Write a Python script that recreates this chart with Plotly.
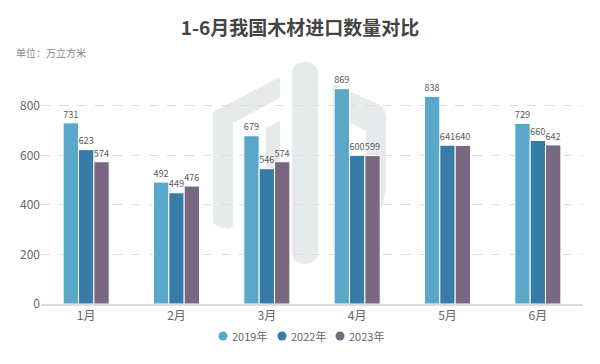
import plotly.graph_objects as go

months = ["1月", "2月", "3月", "4月", "5月", "6月"]
v2019 = [731, 492, 679, 869, 838, 729]
v2022 = [623, 449, 546, 600, 641, 660]
v2023 = [574, 476, 574, 599, 640, 642]
series_names = ["2019年", "2022年", "2023年"]
colors = ["#5aa8c9", "#377ca6", "#7a6883"]
yticks = [0, 200, 400, 600, 800]

FONT = "Noto Sans CJK SC"
W, H = 600, 364
L, R, T, B = 41, 17, 81, 60
PW, PH = W - L - R, H - T - B


def px(x, y):
    return ((x - L) / PW, (H - B - y) / PH)


def path(cmds):
    out = []
    for c in cmds:
        if isinstance(c, str):
            out.append(c)
        else:
            a, b = px(*c)
            out.append(f"{a:.4f},{b:.4f}")
    return " ".join(out)


fig = go.Figure()
for name, vals, c in zip(series_names, [v2019, v2022, v2023], colors):
    fig.add_trace(go.Bar(
        x=months, y=vals, name=name, marker=dict(color=c, line=dict(color="white", width=1)),
        text=[str(v) for v in vals], textposition="outside", cliponaxis=False,
        textfont=dict(size=12, color="#5a5a5a", family=FONT), showlegend=False,
    ))

# watermark logo (decoration)
wm = "#e6eaea"
shapes = []
shapes.append(dict(type="path", path=path(["M", (292, 75), "Q", (292, 62), (305, 62), "Q", (318, 62), (318, 75),
                                           "L", (318, 251), "Q", (318, 264), (305, 264), "Q", (292, 264), (292, 251), "Z"])))
shapes.append(dict(type="path", path=path(["M", (213, 112), "L", (280, 77), "L", (280, 98), "L", (233, 123),
                                           "L", (233, 224), "Q", (233, 230), (226, 228), "L", (218, 226),
                                           "Q", (213, 225), (213, 219), "Z"])))
shapes.append(dict(type="path", path=path(["M", (266, 128), "L", (280, 121), "L", (280, 218), "L", (266, 212), "Z"])))
shapes.append(dict(type="path", path=path(["M", (333, 84), "L", (378, 104), "Q", (386, 108), (386, 118),
                                           "L", (386, 185), "Q", (386, 212), (362, 232), "L", (342, 249),
                                           "Q", (333, 256), (333, 245), "Z"])))
for s in shapes:
    s.update(xref="paper", yref="paper", fillcolor=wm, line=dict(width=0), layer="below")
hole = dict(type="path", xref="paper", yref="paper", fillcolor="white", line=dict(width=0), layer="below",
            path=path(["M", (348, 122), "L", (366, 131), "L", (366, 178), "Q", (364, 195), (348, 210), "Z"]))
shapes.append(hole)

# legend (circle + label), laid out like the reference
legend_x = [223, 282, 340]
legend_y = 336
annotations = []
for name, c, lx in zip(series_names, colors, legend_x):
    x0, y0 = px(lx - 4.5, legend_y + 4.5)
    x1, y1 = px(lx + 4.5, legend_y - 4.5)
    shapes.append(dict(type="circle", xref="paper", yref="paper", x0=x0, y0=y0, x1=x1, y1=y1,
                       fillcolor=c, line=dict(width=0)))
    ax, ay = px(lx + 7, legend_y)
    annotations.append(dict(text=name, xref="paper", yref="paper", x=ax, y=ay, xanchor="left",
                            yanchor="middle", showarrow=False, font=dict(size=11, color="#666", family=FONT)))

sx, sy = px(14, 52)
annotations.append(dict(text="单位：万立方米", xref="paper", yref="paper", x=sx, y=sy,
                        xanchor="left", yanchor="middle", showarrow=False,
                        font=dict(size=10, color="#888", family=FONT)))

fig.update_layout(
    width=W, height=H,
    paper_bgcolor="white", plot_bgcolor="white",
    margin=dict(l=L, r=R, t=T, b=B, autoexpand=False),
    barmode="group", bargap=0.49, bargroupgap=0.0,
    font=dict(family=FONT, color="#666", size=11),
    title=dict(text="<b>1-6月我国木材进口数量对比</b>", x=0.5, xanchor="center",
               y=1 - 28 / H, yanchor="middle", yref="container",
               font=dict(size=19, color="#444", family=FONT)),
    showlegend=False,
    shapes=shapes,
    annotations=annotations,
)
fig.update_xaxes(showgrid=False, showline=True, linecolor="#dcdcdc", linewidth=1.5, ticks="",
                 tickfont=dict(size=12, color="#666"), automargin=False)
fig.update_yaxes(range=[0, 900], tickvals=yticks, showgrid=True, gridcolor="#dddddd", griddash="dash",
                 gridwidth=1, zeroline=False, tickfont=dict(size=12, color="#666"), ticks="",
                 automargin=False)
fig.write_html("out.html", config={"displayModeBar": False},
               post_script="document.body.style.margin='0';")
